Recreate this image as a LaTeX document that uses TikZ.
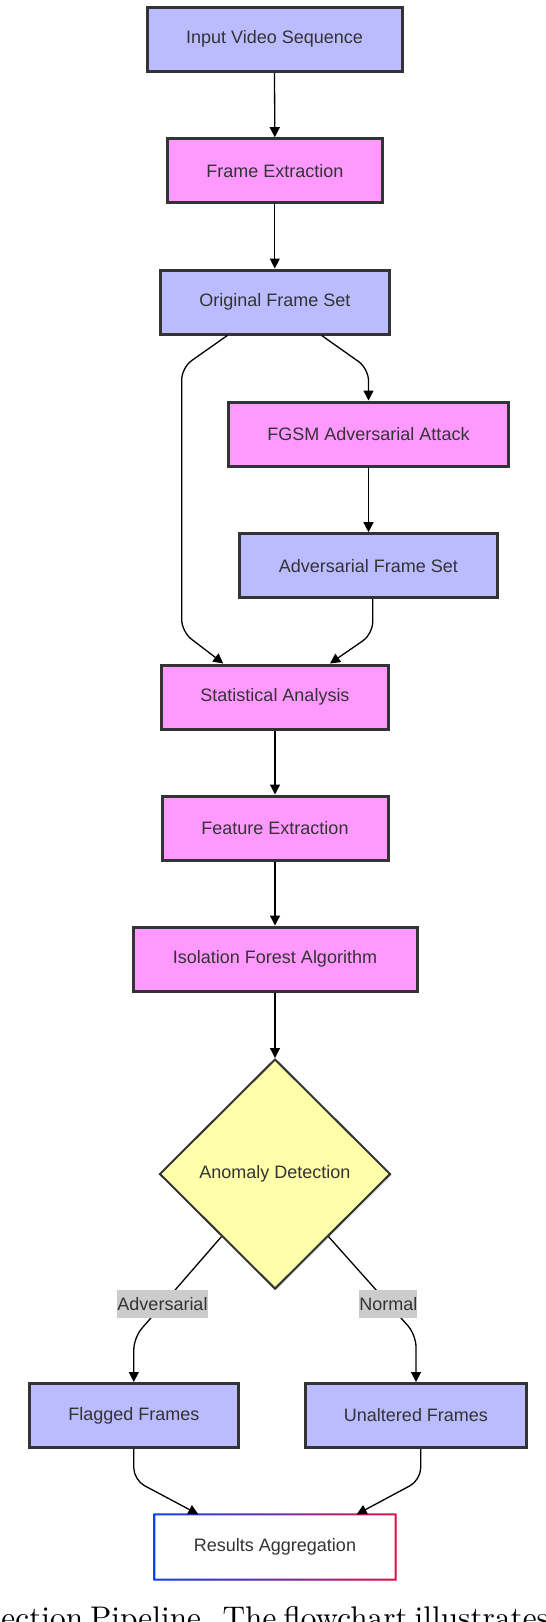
\documentclass[tikz,border=0pt]{standalone}
\usepackage{fontspec}
\newfontfamily\nodefont{Liberation Sans}
\usetikzlibrary{arrows.meta,shapes.geometric,shadows,calc}

\definecolor{boxblue}{HTML}{BBBBFF}
\definecolor{boxpink}{HTML}{FF99FF}
\definecolor{boxyellow}{HTML}{FFFFAA}
\definecolor{edgegray}{HTML}{333333}
\definecolor{labelgray}{HTML}{CCCCCC}
\definecolor{gradL}{RGB}{18,64,240}
\definecolor{gradM}{RGB}{110,45,170}
\definecolor{gradR}{RGB}{232,16,72}

\begin{document}
\begin{tikzpicture}[x=1pt,y=-1pt,
  nodetext/.style={font=\nodefont\fontsize{18}{22}\selectfont, text=edgegray},
  softshadow/.style={drop shadow={shadow xshift=1.5pt, shadow yshift=-1.5pt, opacity=0.12, fill=black}},
  base/.style={nodetext, draw=edgegray, line width=3pt, minimum height=64pt, inner sep=0pt, softshadow},
  bluebox/.style={base, fill=boxblue},
  pinkbox/.style={base, fill=boxpink},
  resbox/.style={nodetext, fill=white, minimum height=64pt, inner sep=0pt, softshadow},
  decision/.style={nodetext, diamond, aspect=1, draw=edgegray, line width=2pt, fill=boxyellow,
     inner sep=0pt, minimum width=231pt, minimum height=230pt, softshadow},
  flow/.style={draw=black, line width=1.3pt, rounded corners=12pt, -{Triangle[length=10pt,width=10pt]}},
  elabel/.style={nodetext, fill=labelgray, inner xsep=0pt, inner ysep=0pt, minimum height=28pt},
]
\useasboundingbox (0,0) rectangle (546,1622);

% nodes
\node[bluebox, minimum width=255pt] (ivs) at (274.5,39.3) {Input Video Sequence};
\node[pinkbox, minimum width=215pt] (fe) at (274.8,170.7) {Frame Extraction};
\node[bluebox, minimum width=229pt] (ofs) at (275,302) {Original Frame Set};
\node[pinkbox, minimum width=280pt] (fgsm) at (368.5,434) {FGSM Adversarial Attack};
\node[bluebox, minimum width=258pt] (afs) at (368.3,565.7) {Adversarial Frame Set};
\node[pinkbox, minimum width=227pt] (sa) at (275,697) {Statistical Analysis};
\node[pinkbox, minimum width=226pt] (fx) at (275,828) {Feature Extraction};
\node[pinkbox, minimum width=284pt] (ifa) at (275,959) {Isolation Forest Algorithm};
\node[decision] (ad) at (275,1174) {Anomaly Detection};
\node[bluebox, minimum width=209pt] (ff) at (133.8,1415.5) {Flagged Frames};
\node[bluebox, minimum width=221pt] (uf) at (416,1415.5) {Unaltered Frames};
\node[resbox, minimum width=241pt, minimum height=65pt] (ra) at (275,1547) {Results Aggregation};

% gradient border of the results box
\shade[left color=gradL, right color=gradR, middle color=gradM, even odd rule]
  ([shift={(-1pt,1pt)}]ra.north west) rectangle ([shift={(1pt,-1pt)}]ra.south east)
  ([shift={(1pt,-1pt)}]ra.north west) rectangle ([shift={(-1pt,1pt)}]ra.south east);

% bend points
\coordinate (b1) at (368.5,368.6);
\coordinate (b2) at (181.7,367.6);
\coordinate (b3) at (181.7,631.7);
\coordinate (b4) at (372.7,634);
\coordinate (b5) at (133.8,1337.6);
\coordinate (b6) at (416,1334.8);
\coordinate (b7) at (133.8,1480);
\coordinate (b8) at (420.7,1480);
\coordinate (d1) at ($(ad.south)!0.46!(ad.west)$);
\coordinate (d2) at ($(ad.south)!0.46!(ad.east)$);

% connectors
\draw[flow] (ivs.south) -- (fe.north);
\draw[flow] (fe.south) -- (fe.south |- ofs.north);
\draw[flow] ([xshift=46.7pt]ofs.south) -- (b1) -- (fgsm.north);
\draw[flow] ([xshift=-47.7pt]ofs.south) -- (b2) -- (b3) -- ([xshift=-51.7pt]sa.north);
\draw[flow] (fgsm.south) -- (afs.north -| fgsm.south);
\draw[flow] ([xshift=4.4pt]afs.south) -- (b4) -- ([xshift=55pt]sa.north);
\draw[flow] (sa.south) -- (fx.north);
\draw[flow] (fx.south) -- (ifa.north);
\draw[flow] (ifa.south) -- (ad.north);
\draw[flow] (d1) -- (b5) -- (ff.north);
\draw[flow] (d2) -- (b6) -- (uf.north);
\draw[flow] (ff.south) -- (b7) -- ([xshift=-76.7pt]ra.north);
\draw[flow] ([xshift=4.7pt]uf.south) -- (b8) -- ([xshift=81.7pt]ra.north);

% edge labels
\node[elabel] (l1) at (162.5,1304) {Adversarial};
\node[elabel] (l2) at (388.3,1304) {Normal};

% cut-off caption
\begin{scope}
\clip (0,0) rectangle (546,1622);
\node[anchor=base west, inner sep=0pt, text=black] (cap) at (1.3,1628)
  {\scalebox{3.13}{\spaceskip=2.222pt\xspaceskip=4.07pt ection Pipeline. The flowchart illustrates}};
\end{scope}
\end{tikzpicture}
\end{document}
